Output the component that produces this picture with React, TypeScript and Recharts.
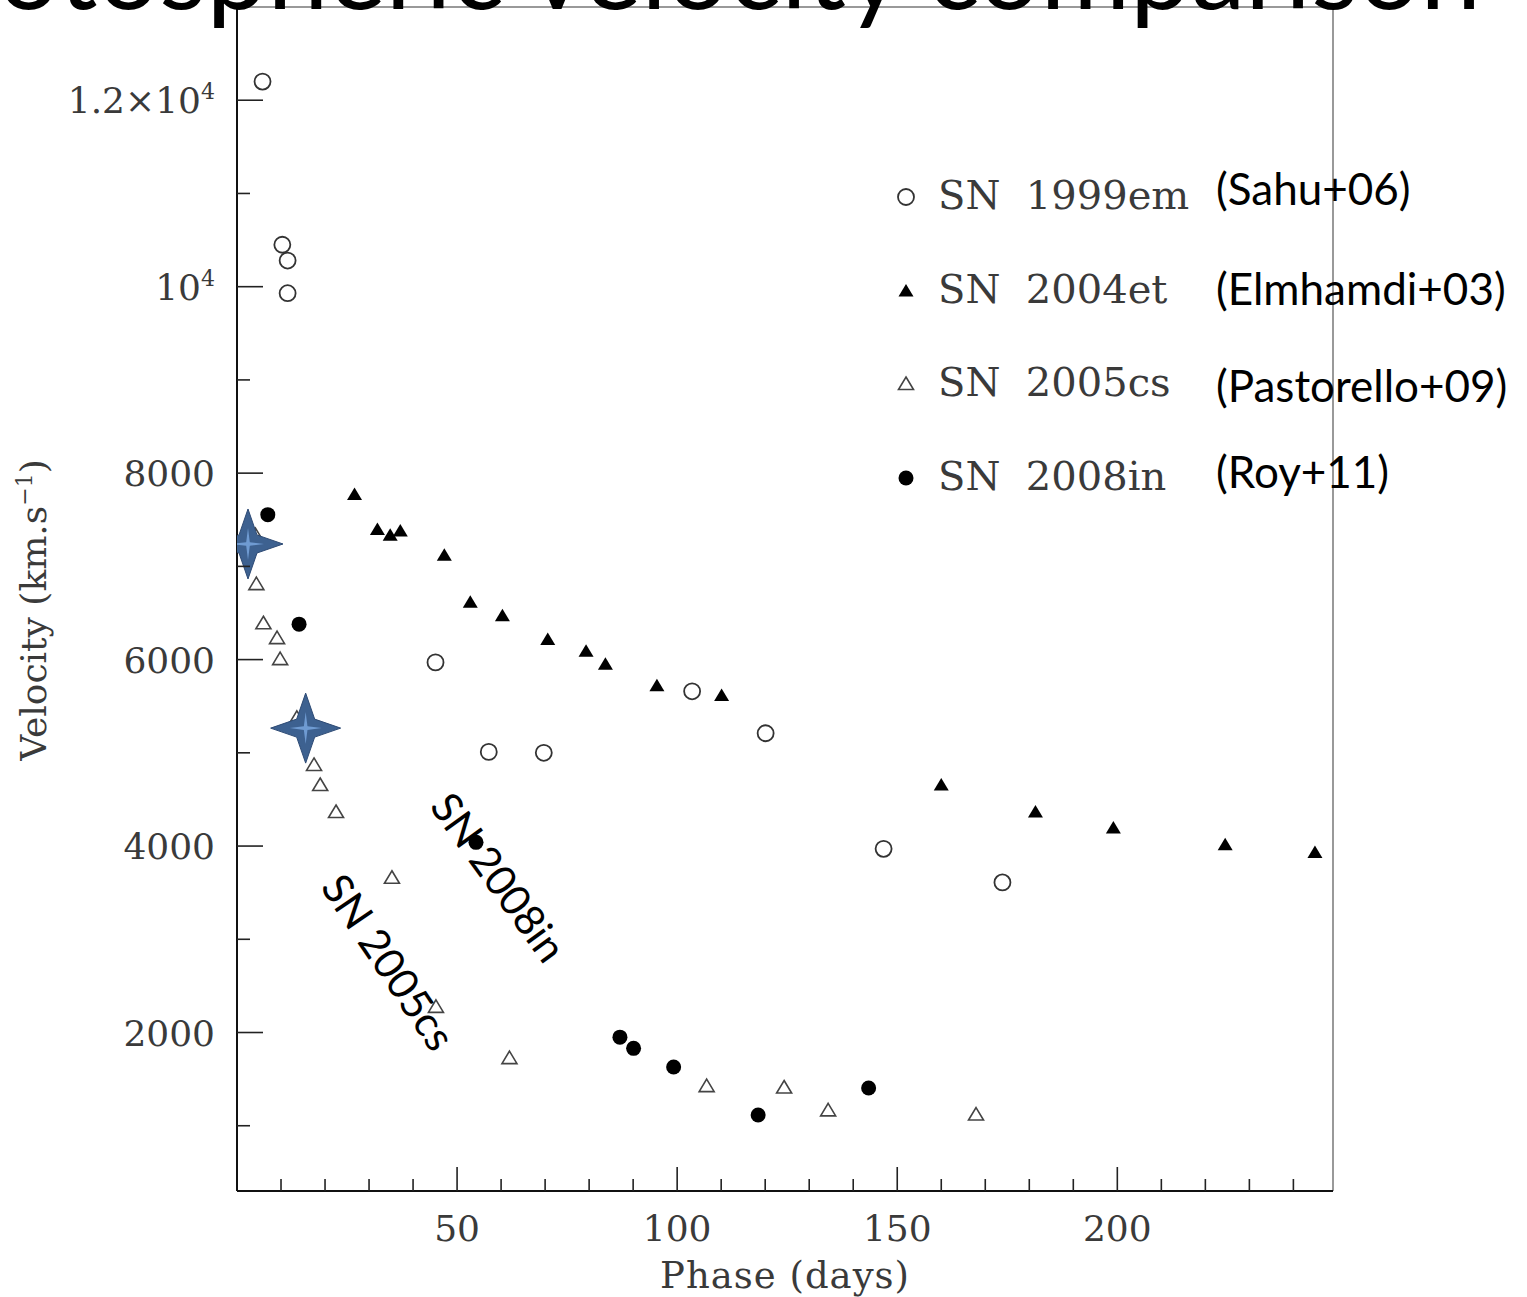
import React from 'react';
import {
  ScatterChart,
  Scatter,
  XAxis,
  YAxis,
  ReferenceLine,
  ReferenceDot,
  Legend,
  Label,
} from 'recharts';

// phase (days) vs photospheric velocity (km/s)
const sn1999em = [
  { phase: 5.8, velocity: 12200 },
  { phase: 10.3, velocity: 10450 },
  { phase: 11.5, velocity: 10280 },
  { phase: 11.5, velocity: 9930 },
  { phase: 45.1, velocity: 5970 },
  { phase: 57.2, velocity: 5010 },
  { phase: 69.7, velocity: 5000 },
  { phase: 103.4, velocity: 5660 },
  { phase: 120.1, velocity: 5210 },
  { phase: 146.9, velocity: 3970 },
  { phase: 173.9, velocity: 3610 },
];

const sn2004et = [
  { phase: 26.7, velocity: 7770 },
  { phase: 31.9, velocity: 7395 },
  { phase: 34.8, velocity: 7335 },
  { phase: 37.1, velocity: 7380 },
  { phase: 47.1, velocity: 7120 },
  { phase: 53.0, velocity: 6615 },
  { phase: 60.3, velocity: 6470 },
  { phase: 70.6, velocity: 6215 },
  { phase: 79.3, velocity: 6090 },
  { phase: 83.7, velocity: 5950 },
  { phase: 95.4, velocity: 5720 },
  { phase: 110.1, velocity: 5615 },
  { phase: 160.0, velocity: 4655 },
  { phase: 181.4, velocity: 4365 },
  { phase: 199.1, velocity: 4195 },
  { phase: 224.5, velocity: 4015 },
  { phase: 244.9, velocity: 3930 },
];

const sn2005cs = [
  { phase: 4.2, velocity: 7335 },
  { phase: 4.4, velocity: 6810 },
  { phase: 6.0, velocity: 6390 },
  { phase: 9.1, velocity: 6230 },
  { phase: 9.8, velocity: 6005 },
  { phase: 13.6, velocity: 5375 },
  { phase: 17.5, velocity: 4870 },
  { phase: 18.9, velocity: 4655 },
  { phase: 22.5, velocity: 4365 },
  { phase: 35.2, velocity: 3660 },
  { phase: 45.2, velocity: 2275 },
  { phase: 61.9, velocity: 1725 },
  { phase: 106.7, velocity: 1425 },
  { phase: 124.3, velocity: 1410 },
  { phase: 134.3, velocity: 1165 },
  { phase: 167.9, velocity: 1120 },
];

const sn2008in = [
  { phase: 7.0, velocity: 7555 },
  { phase: 14.1, velocity: 6380 },
  { phase: 54.3, velocity: 4040 },
  { phase: 87.0, velocity: 1950 },
  { phase: 90.1, velocity: 1830 },
  { phase: 99.2, velocity: 1630 },
  { phase: 118.4, velocity: 1115 },
  { phase: 143.5, velocity: 1405 },
];

// highlighted epochs (blue stars)
const highlighted = [
  { phase: 2.5, velocity: 7240 },
  { phase: 15.6, velocity: 5265 },
];

const seriesNames = ['SN 1999em', 'SN 2004et', 'SN 2005cs', 'SN 2008in'];
const citations = ['(Sahu+06)', '(Elmhamdi+03)', '(Pastorello+09)', '(Roy+11)'];

const xTicks = [10, 20, 30, 40, 50, 60, 70, 80, 90, 100, 110, 120, 130, 140, 150, 160, 170, 180, 190, 200, 210, 220, 230, 240];
const xMajor = [50, 100, 150, 200];
const yTicks = [1000, 2000, 3000, 4000, 5000, 6000, 7000, 8000, 9000, 10000, 11000, 12000];
const yMajor = [2000, 4000, 6000, 8000, 10000, 12000];

const TITLE = 'Photospheric velocity comparison';

const SERIF = '"DejaVu Serif", serif';
const SANS = 'Lato, "Open Sans", sans-serif';
const INK = '#3a3a3a';

function OpenCircle({ cx, cy }: any) {
  return <circle cx={cx} cy={cy} r={8} fill="none" stroke="#333" strokeWidth={1.8} />;
}
function FilledCircle({ cx, cy }: any) {
  return <circle cx={cx} cy={cy} r={7.5} fill="#000" />;
}
function triPath(cx: number, cy: number) {
  return `M${cx},${cy - 7} L${cx + 7.5},${cy + 5.5} L${cx - 7.5},${cy + 5.5} Z`;
}
function FilledTriangle({ cx, cy }: any) {
  return <path d={triPath(cx, cy)} fill="#000" />;
}
function OpenTriangle({ cx, cy }: any) {
  return <path d={triPath(cx, cy)} fill="none" stroke="#444" strokeWidth={1.6} />;
}
function starPath(cx: number, cy: number, r: number, w: number) {
  return `M${cx},${cy - r} L${cx + w},${cy - w} L${cx + r},${cy} L${cx + w},${cy + w} L${cx},${cy + r} L${cx - w},${cy + w} L${cx - r},${cy} L${cx - w},${cy - w} Z`;
}
function Star({ cx, cy }: any) {
  return (
    <g>
      <path d={starPath(cx, cy, 35, 9)} fill="#3d6190" stroke="#2e4b75" strokeWidth={1} />
      <path d={starPath(cx, cy, 16, 1.8)} fill="#6f9bd2" />
    </g>
  );
}

const legendShapes = [OpenCircle, FilledTriangle, OpenTriangle, FilledCircle];

function XTick({ x, y, payload }: any) {
  const major = xMajor.includes(payload.value);
  return (
    <g>
      <line x1={x} x2={x} y1={y} y2={y - (major ? 24 : 12)} stroke="#222" strokeWidth={1.6} />
      {major && (
        <text x={x} y={y + 50} textAnchor="middle" fontFamily={SERIF} fontSize={36} fill={INK}>
          {payload.value}
        </text>
      )}
    </g>
  );
}

function YTick({ x, y, payload }: any) {
  const v = payload.value;
  const major = yMajor.includes(v);
  let label: React.ReactNode = null;
  if (major) {
    if (v === 10000) {
      label = (
        <>
          <tspan>10</tspan>
          <tspan dy={-14} fontSize={22}>4</tspan>
        </>
      );
    } else if (v === 12000) {
      label = (
        <>
          <tspan>1.2×10</tspan>
          <tspan dy={-14} fontSize={22}>4</tspan>
        </>
      );
    } else {
      label = String(v);
    }
  }
  return (
    <g>
      <line x1={x} x2={x + (major ? 26 : 13)} y1={y} y2={y} stroke="#222" strokeWidth={1.6} />
      {major && (
        <text x={x - 22} y={y + 13} textAnchor="end" fontFamily={SERIF} fontSize={36} fill={INK}>
          {label}
        </text>
      )}
    </g>
  );
}

function XTitle({ viewBox }: any) {
  return (
    <text x={viewBox.x + viewBox.width / 2} y={viewBox.y + 97} textAnchor="middle" fontFamily={SERIF} fontSize={37} fill={INK} letterSpacing={1}>
      Phase (days)
    </text>
  );
}

function YTitle({ viewBox }: any) {
  const cx = viewBox.x + 46;
  const cy = viewBox.y + viewBox.height / 2 + 11;
  return (
    <text x={cx} y={cy} transform={`rotate(-90, ${cx}, ${cy})`} textAnchor="middle" fontFamily={SERIF} fontSize={36} fill={INK}>
      <tspan>Velocity (km.s</tspan>
      <tspan dy={-14} fontSize={22}>−1</tspan>
      <tspan dy={14}>)</tspan>
    </text>
  );
}

function rotatedLabel(text: string, angle: number) {
  return ({ viewBox }: any) => {
    const x = viewBox.x + viewBox.width / 2;
    const y = viewBox.y + viewBox.height / 2;
    return (
      <text x={x} y={y} transform={`rotate(${angle}, ${x}, ${y})`} textAnchor="middle" dominantBaseline="central" fontFamily={SANS} fontSize={42} fill="#000">
        {text}
      </text>
    );
  };
}

const legendRowY = [197, 291, 384, 478];
const citationBaseline = [205, 305, 402, 488];

function LegendBox({ payload }: any) {
  const items = (payload || []).filter((p: any) => seriesNames.includes(p.value));
  return (
    <svg width={1527} height={520} style={{ overflow: 'visible', display: 'block' }}>
      {items.map((p: any) => {
        const i = seriesNames.indexOf(p.value);
        const Shape = legendShapes[i];
        const cy = legendRowY[i];
        return (
          <g key={p.value}>
            <Shape cx={906} cy={cy} />
            <text x={938} y={cy + 12} fontFamily={SERIF} fontSize={40} fill={INK} style={{ whiteSpace: 'pre' }}>
              {p.value.replace(' ', '  ')}
            </text>
            <text x={1216} y={citationBaseline[i]} fontFamily={SANS} fontSize={44} fill="#000">
              {citations[i]}
            </text>
          </g>
        );
      })}
    </svg>
  );
}

export default function App() {
  return (
    <div style={{ position: 'absolute', left: 0, top: 0, width: 1527, height: 1297, background: '#fff' }}>
      <ScatterChart width={1527} height={1297} margin={{ top: 7, right: 194, bottom: 0, left: 0 }}>
        <XAxis
          type="number"
          dataKey="phase"
          domain={[0, 249]}
          ticks={xTicks}
          interval={0}
          allowDataOverflow
          height={106}
          tickSize={0}
          tickMargin={0}
          tickLine={false}
          axisLine={{ stroke: '#111', strokeWidth: 2 }}
          tick={<XTick />}
        >
          <Label content={<XTitle />} />
        </XAxis>
        <YAxis
          type="number"
          dataKey="velocity"
          domain={[300, 13000]}
          ticks={yTicks}
          interval={0}
          allowDataOverflow
          width={237}
          tickSize={0}
          tickMargin={0}
          tickLine={false}
          axisLine={{ stroke: '#111', strokeWidth: 2 }}
          tick={<YTick />}
        >
          <Label content={<YTitle />} />
        </YAxis>
        <ReferenceLine x={249} stroke="#999" strokeWidth={2} ifOverflow="visible" />
        <ReferenceLine y={13000} stroke="#999" strokeWidth={2} ifOverflow="visible" />
        <Legend
          layout="horizontal"
          verticalAlign="middle"
          align="center"
          content={<LegendBox />}
          wrapperStyle={{ left: 0, top: 0, width: 1527, height: 520, pointerEvents: 'none' }}
        />
        <Scatter name={seriesNames[0]} data={sn1999em} shape={<OpenCircle />} isAnimationActive={false} />
        <Scatter name={seriesNames[1]} data={sn2004et} shape={<FilledTriangle />} isAnimationActive={false} />
        <Scatter name={seriesNames[2]} data={sn2005cs} shape={<OpenTriangle />} isAnimationActive={false} />
        <Scatter name={seriesNames[3]} data={sn2008in} shape={<FilledCircle />} isAnimationActive={false} />
        <ReferenceDot x={59.6} y={3670} r={0} ifOverflow="visible" label={rotatedLabel('SN 2008in', 54)} />
        <ReferenceDot x={34.6} y={2760} r={0} ifOverflow="visible" label={rotatedLabel('SN 2005cs', 56)} />
        <Scatter name="highlight" data={highlighted} shape={<Star />} legendType="none" isAnimationActive={false} />
      </ScatterChart>
      <svg width={1527} height={60} style={{ position: 'absolute', left: 0, top: 0, overflow: 'visible' }}>
        <text x={1481} y={9} textAnchor="end" fontFamily={SANS} fontSize={109} fill="#000">
          {TITLE}
        </text>
      </svg>
    </div>
  );
}
